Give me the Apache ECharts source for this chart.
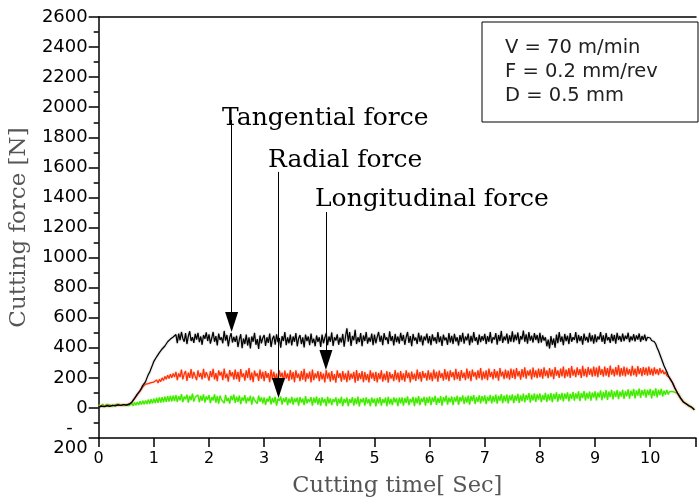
<!DOCTYPE html>
<html>
<head>
<meta charset="utf-8">
<script src="https://cdn.jsdelivr.net/npm/echarts@6/dist/echarts.min.js"></script>
<style>
  html, body { margin: 0; padding: 0; background: #fff; }
  #chart { width: 699px; height: 504px; }
</style>
</head>
<body>
<div id="chart"></div>
<script>
// sampling: one reading every 0.025 s, from 0 to 10.8 s
const dt = 0.025

// tangential force [N]
const tangential = [
  5, 9, 12, 7, 8, 14, 15, 10, 10, 16, 18, 13, 14, 19, 20, 15, 16, 22, 23, 18, 19, 24, 25, 22,
  38, 50, 64, 72, 92, 105, 115, 132, 150, 158, 175, 200, 222, 238, 262, 285, 310, 318, 340, 352, 368, 375, 392, 405, 412, 425, 440, 448, 458, 452, 472, 465,
  488, 430, 495, 450, 505, 462, 440, 498, 425, 478, 510, 445, 470, 432, 492, 455, 500, 438, 475, 420, 485, 460, 502, 445,
  490, 428, 465, 505, 440, 478, 415, 495, 452, 470, 430, 512, 448, 485, 410, 468, 498, 435, 472, 440,
  480, 405, 455, 490, 398, 462, 425, 488, 415, 470, 395, 475, 440, 500, 420, 458, 392, 482, 430, 465,
  485, 412, 470, 432, 495, 405, 458, 480, 420, 490, 438, 465, 400, 478, 445, 505, 418, 470, 430, 488,
  415, 475, 440, 498, 410, 462, 485, 425, 470, 402, 488, 445, 475, 418, 495, 432, 460, 410, 482, 440,
  470, 405, 488, 430, 465, 498, 418, 475, 440, 502, 412, 470, 448, 490, 420, 468, 435, 492, 408, 475,
  530, 440, 505, 412, 478, 450, 520, 425, 470, 438, 498, 410, 482, 445, 505, 428, 468, 440, 495, 418,
  488, 430, 472, 505, 440, 480, 418, 498, 452, 470, 425, 510, 445, 478, 415, 492, 438, 475, 428, 500,
  445, 485, 420, 470, 505, 432, 478, 410, 492, 448, 468, 425, 500, 440, 482, 415, 475, 450, 495, 430,
  478, 418, 490, 445, 470, 428, 505, 438, 475, 412, 488, 450, 468, 420, 498, 435, 480, 425, 492, 442,
  470, 415, 485, 440, 500, 428, 475, 450, 495, 418, 480, 435, 505, 445, 470, 420, 488, 438, 478, 448,
  492, 425, 478, 440, 505, 430, 470, 455, 498, 420, 485, 445, 512, 432, 475, 450, 495, 428, 482, 440,
  510, 438, 488, 450, 502, 425, 478, 455, 515, 440, 490, 428, 505, 448, 480, 435, 498, 452, 485, 430,
  500, 435, 482, 448, 470, 410, 455, 395, 478, 420, 462, 400, 488, 430, 505, 440, 475, 418, 492, 445,
  480, 425, 498, 440, 470, 452, 505, 430, 485, 445, 478, 420, 495, 448, 472, 435, 500, 442, 482, 428,
  490, 438, 475, 455, 505, 440, 482, 425, 498, 450, 470, 432, 492, 445, 485, 428, 500, 452, 478, 440,
  495, 445, 480, 458, 500, 438, 475, 450, 490, 442, 482, 455, 495, 440, 478, 452, 488, 445, 470, 458,
  465, 448, 458, 440, 425, 400, 380, 355, 330, 305, 280, 260, 240, 218, 200, 185, 170, 150, 130, 112, 95, 80, 65, 52, 40, 34, 28, 20, 15, 8, 5, -5, -12
]

// radial force [N]
const radial = [
  8, 10, 14, 9, 10, 16, 14, 12, 13, 18, 17, 14, 16, 21, 20, 17, 18, 23, 22, 19, 21, 26, 25, 23,
  36, 50, 62, 75, 88, 100, 112, 125, 140, 150, 158, 145, 162, 150, 168, 155, 172, 160, 185, 165, 190, 175, 200, 182, 210, 190, 218, 195, 225, 200, 230, 205,
  240, 185, 230, 205, 255, 190, 225, 245, 180, 235, 200, 258, 195, 240, 210, 185, 250, 205, 232, 190, 260, 200, 238, 215,
  182, 245, 205, 260, 190, 232, 178, 250, 215, 240, 185, 262, 198, 228, 175, 252, 210, 238, 188, 255,
  192, 240, 175, 258, 205, 230, 182, 250, 200, 265, 185, 235, 172, 248, 210, 230, 180, 255, 195, 240,
  178, 245, 200, 232, 172, 255, 190, 240, 182, 228, 168, 250, 205, 235, 175, 248, 195, 230, 180, 252,
  190, 238, 172, 250, 200, 228, 178, 245, 188, 260, 175, 232, 195, 242, 170, 255, 185, 230, 198, 245,
  178, 240, 190, 228, 170, 252, 195, 235, 175, 245, 185, 225, 168, 250, 200, 232, 175, 245, 188, 230,
  172, 248, 185, 228, 195, 240, 168, 252, 180, 232, 192, 245, 172, 238, 185, 225, 170, 250, 195, 235,
  180, 240, 170, 232, 192, 250, 175, 228, 185, 245, 168, 238, 195, 225, 178, 252, 188, 235, 172, 245,
  185, 230, 175, 250, 198, 235, 170, 242, 190, 228, 180, 255, 192, 238, 175, 245, 200, 232, 182, 250,
  188, 235, 178, 255, 195, 240, 175, 248, 200, 232, 182, 258, 190, 242, 178, 250, 205, 238, 185, 260,
  192, 240, 180, 252, 200, 235, 185, 262, 195, 245, 178, 255, 208, 238, 188, 250, 198, 265, 185, 242,
  195, 250, 185, 262, 205, 240, 190, 258, 200, 245, 182, 265, 210, 242, 192, 255, 198, 248, 188, 262,
  200, 255, 192, 265, 210, 245, 188, 258, 205, 270, 195, 248, 215, 255, 190, 268, 205, 250, 198, 262,
  205, 258, 195, 270, 212, 250, 198, 265, 208, 255, 192, 272, 215, 250, 200, 262, 210, 275, 198, 255,
  210, 265, 200, 278, 215, 255, 205, 270, 218, 258, 200, 280, 212, 260, 205, 272, 220, 262, 208, 275,
  212, 268, 205, 280, 220, 258, 208, 275, 215, 265, 205, 282, 222, 260, 210, 272, 218, 285, 208, 265,
  215, 275, 210, 268, 222, 258, 212, 280, 218, 262, 208, 278, 225, 265, 212, 272, 220, 268, 215, 275,
  220, 262, 215, 270, 225, 258, 218, 265, 230, 252, 225, 240, 215, 210, 200, 185, 170, 150, 130, 112, 95, 80, 65, 52, 40, 34, 28, 20, 15, 8, 5, -5, -12
]

// longitudinal force [N]
const longitudinal = [
  22, 8, 18, 25, 10, 15, 24, 12, 20, 26, 9, 18, 22, 14, 25, 12, 20, 24, 15, 22, 18, 26, 16, 22,
  30, 14, 36, 18, 40, 20, 44, 22, 48, 24, 50, 26, 55, 28, 58, 30, 62, 32, 66, 34, 70, 36, 72, 38, 75, 40, 78, 42, 80, 44, 82, 46,
  85, 40, 78, 50, 92, 38, 75, 58, 88, 35, 80, 52, 95, 42, 72, 60, 86, 38, 80, 48, 90, 36, 76, 55,
  85, 32, 72, 50, 90, 35, 78, 28, 82, 55, 68, 32, 86, 45, 66, 28, 80, 52, 88, 34,
  75, 40, 82, 25, 70, 48, 85, 30, 68, 45, 80, 22, 74, 52, 64, 28, 82, 42, 70, 30,
  70, 20, 62, 42, 78, 24, 66, 35, 74, 15, 62, 48, 76, 22, 65, 40, 72, 18, 62, 32,
  74, 22, 64, 40, 68, 15, 72, 36, 62, 18, 78, 30, 58, 40, 72, 16, 68, 34, 75, 22,
  65, 15, 70, 36, 60, 12, 74, 30, 64, 18, 58, 40, 70, 14, 62, 30, 74, 12, 60, 34,
  68, 12, 58, 34, 72, 16, 64, 26, 75, 10, 60, 38, 66, 15, 70, 30, 58, 12, 68, 34,
  62, 10, 66, 30, 72, 15, 58, 34, 68, 12, 74, 26, 60, 18, 70, 38, 64, 12, 68, 30,
  70, 15, 66, 34, 76, 18, 60, 38, 74, 12, 68, 30, 78, 18, 64, 40, 74, 15, 70, 34,
  76, 18, 70, 40, 80, 20, 66, 34, 78, 15, 72, 42, 82, 22, 68, 38, 76, 18, 72, 42,
  80, 20, 72, 44, 84, 26, 74, 36, 82, 22, 78, 46, 86, 26, 72, 40, 84, 30, 78, 44,
  84, 26, 74, 46, 86, 30, 78, 40, 88, 28, 80, 48, 92, 32, 82, 44, 88, 30, 84, 50,
  90, 32, 82, 48, 94, 34, 84, 46, 96, 38, 86, 54, 98, 36, 88, 50, 96, 40, 90, 56,
  96, 38, 86, 54, 100, 40, 90, 50, 98, 38, 94, 58, 104, 42, 92, 56, 100, 44, 96, 60,
  104, 44, 94, 60, 106, 48, 96, 62, 110, 46, 98, 66, 112, 50, 100, 62, 108, 48, 102, 68,
  110, 50, 102, 70, 116, 52, 106, 66, 118, 54, 108, 72, 120, 56, 110, 74, 118, 58, 108, 76,
  120, 60, 110, 78, 124, 62, 114, 80, 126, 64, 116, 82, 128, 66, 118, 84, 124, 68, 120, 86,
  126, 64, 116, 80, 130, 70, 120, 85, 126, 76, 115, 88, 120, 90, 108, 95, 110, 98, 104, 100, 95, 80, 65, 52, 40, 34, 28, 20, 15, 8, 5, -5, -12
]

// annotation arrows: [time, line top, arrow end] in data units
const arrowTangential = [2.41, 1915, 572]
const arrowRadial = [3.26, 1570, 133]
const arrowLongitudinal = [4.12, 1303, 319]

const conditions = ['V = 70 m/min', 'F = 0.2 mm/rev', 'D = 0.5 mm']

const toPoints = vals => vals.map((v, i) => [+(i * dt).toFixed(3), v])

const arrow = a => ({
  silent: true,
  animation: false,
  symbol: ['none', 'triangle'],
  symbolSize: [13, 20],
  label: { show: false },
  lineStyle: { color: '#000', width: 1, type: 'solid', shadowBlur: 0 },
  data: [[{ coord: [a[0], a[1]] }, { coord: [a[0], a[2]] }]],
})

const chart = echarts.init(document.getElementById('chart'))

const serif = 'DejaVu Serif'
const sans = 'DejaVu Sans'

chart.setOption({
  backgroundColor: '#fff',
  animation: false,
  grid: { left: 97, right: 0, top: 17, bottom: 66 },
  xAxis: [
    {
      type: 'value', min: 0, max: 10.83, interval: 1,
      name: 'Cutting time[ Sec]', nameLocation: 'middle', nameGap: 37,
      nameTextStyle: { fontFamily: serif, fontSize: 22.5, color: '#555' },
      axisLine: { show: true, onZero: false, lineStyle: { color: '#000', width: 1.5 } },
      axisTick: { show: true, length: 9, lineStyle: { color: '#000', width: 1.5 } },
      axisLabel: {
        fontFamily: sans, fontSize: 16, color: '#000', margin: 13,
        formatter: v => Number.isInteger(v) ? String(v) : '',
      },
      splitLine: { show: false },
    },
    {
      type: 'value', position: 'top', min: 0, max: 10.83,
      axisLine: { show: true, onZero: false, lineStyle: { color: '#000', width: 1.5 } },
      axisTick: { show: false }, axisLabel: { show: false }, splitLine: { show: false },
    },
  ],
  yAxis: {
    type: 'value', min: -200, max: 2600, interval: 200,
    name: 'Cutting force [N]', nameLocation: 'middle', nameGap: 65,
    nameTextStyle: { fontFamily: serif, fontSize: 23, color: '#555' },
    axisLine: { show: true, onZero: false, lineStyle: { color: '#000', width: 1.5 } },
    axisTick: { show: true, length: 10, lineStyle: { color: '#000', width: 1.5 } },
    minorTick: { show: true, splitNumber: 2, length: 5, lineStyle: { color: '#000', width: 1.5 } },
    axisLabel: {
      fontFamily: sans, fontSize: 18, color: '#000', margin: 11, lineHeight: 20,
      formatter: v => v === -200 ? '{d|-}\n200' : String(v),
      rich: { d: { fontFamily: sans, fontSize: 18, color: '#000', padding: [0, 15, 0, 0] } },
    },
    splitLine: { show: false },
  },
  series: [
    {
      name: 'Longitudinal force', type: 'line', data: toPoints(longitudinal),
      symbol: 'none',
      lineStyle: { color: '#3cec00', width: 1.3, shadowBlur: 2, shadowColor: 'rgba(150,230,60,0.6)' },
      markLine: arrow(arrowLongitudinal),
    },
    {
      name: 'Radial force', type: 'line', data: toPoints(radial),
      symbol: 'none',
      lineStyle: { color: '#ff3000', width: 1.2, shadowBlur: 2, shadowColor: 'rgba(220,90,90,0.5)' },
      markLine: arrow(arrowRadial),
    },
    {
      name: 'Tangential force', type: 'line', data: toPoints(tangential),
      symbol: 'none',
      lineStyle: { color: '#000', width: 1.2, shadowBlur: 2, shadowColor: 'rgba(0,0,0,0.35)' },
      markLine: arrow(arrowTangential),
    },
  ],
  graphic: [
    { type: 'rect', shape: { x: 482, y: 22, width: 216, height: 100 },
      style: { fill: '#fff', stroke: '#000', lineWidth: 1 } },
    ...conditions.map((t, i) => ({
      type: 'text', x: 505, y: 48 + i * 24,
      style: { text: t, fontFamily: sans, fontSize: 19.5, fill: '#222', verticalAlign: 'middle' },
    })),
    { type: 'text', x: 222, y: 118,
      style: { text: 'Tangential force', fontFamily: serif, fontSize: 25, fill: '#000', verticalAlign: 'middle' } },
    { type: 'text', x: 268, y: 160,
      style: { text: 'Radial force', fontFamily: serif, fontSize: 25, fill: '#000', verticalAlign: 'middle' } },
    { type: 'text', x: 315, y: 199,
      style: { text: 'Longitudinal force', fontFamily: serif, fontSize: 25, fill: '#000', verticalAlign: 'middle' } },
  ],
})
</script>
</body>
</html>
